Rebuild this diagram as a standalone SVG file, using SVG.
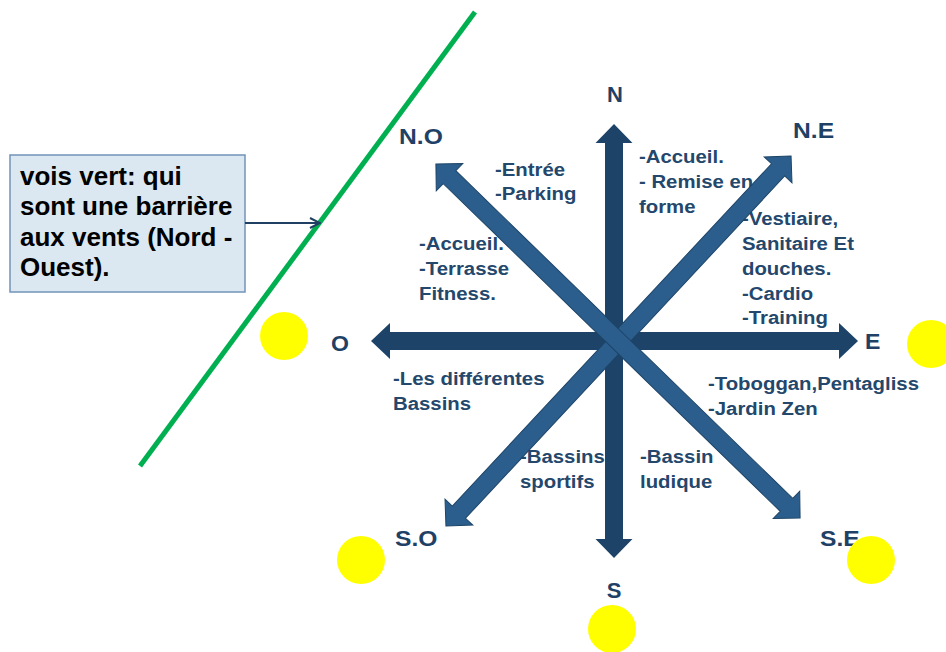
<svg xmlns="http://www.w3.org/2000/svg" width="946" height="652" viewBox="0 0 946 652">
<defs>
<style>
.lbl{font-family:"Liberation Sans",Arial,sans-serif;font-weight:bold;font-size:18.5px;fill:#24476c;}
.dir{font-family:"Liberation Sans",Arial,sans-serif;font-weight:bold;font-size:22px;fill:#1f4166;}
.note{font-family:"Liberation Sans",Arial,sans-serif;font-weight:bold;font-size:26px;fill:#000;}
.axis{fill:#1d4468;}
.diag{fill:#2b5e8c;stroke:#1d4468;stroke-width:1;}
.sun{fill:#ffff00;}
</style>
<marker id="open" viewBox="0 0 12 12" refX="11" refY="6" markerWidth="12" markerHeight="12" markerUnits="userSpaceOnUse" orient="auto">
<path d="M1,1 L11,6 L1,11" fill="none" stroke="#1f3f63" stroke-width="2"/>
</marker>
</defs>
<rect width="946" height="652" fill="#fff"/>

<g id="barrier">
<line x1="475" y1="12" x2="140" y2="466" stroke="#00b050" stroke-width="5"/>
</g>

<g id="note">
<rect x="10" y="155" width="235" height="137" fill="#dbe8f1" stroke="#7294b8" stroke-width="1.5"/>
<text class="note" x="20" y="185">vois vert: qui</text>
<text class="note" x="20" y="215">sont une barrière</text>
<text class="note" x="20" y="246">aux vents (Nord -</text>
<text class="note" x="20" y="276">Ouest).</text>
</g>

<g id="labels">
<g id="lbl-no" transform="translate(495,176) scale(1.1 1)"><text class="lbl"><tspan x="0" y="0">-Entrée</tspan><tspan x="0" y="24">-Parking</tspan></text></g>
<g id="lbl-n" transform="translate(639,163) scale(1.1 1)"><text class="lbl"><tspan x="0" y="0">-Accueil.</tspan><tspan x="0" y="25">- Remise en</tspan><tspan x="0" y="50">forme</tspan></text></g>
<g id="lbl-ne" transform="translate(742,225) scale(1.1 1)"><text class="lbl"><tspan x="0" y="0">-Vestiaire,</tspan><tspan x="0" y="25">Sanitaire Et</tspan><tspan x="0" y="50">douches.</tspan><tspan x="0" y="75">-Cardio</tspan><tspan x="0" y="99">-Training</tspan></text></g>
<g id="lbl-o" transform="translate(419,250) scale(1.1 1)"><text class="lbl"><tspan x="0" y="0">-Accueil.</tspan><tspan x="0" y="25">-Terrasse</tspan><tspan x="0" y="50">Fitness.</tspan></text></g>
<g id="lbl-so-w" transform="translate(393,385) scale(1.1 1)"><text class="lbl"><tspan x="0" y="0">-Les différentes</tspan><tspan x="0" y="25">Bassins</tspan></text></g>
<g id="lbl-se" transform="translate(708,390) scale(1.1 1)"><text class="lbl"><tspan x="0" y="0">-Toboggan,Pentagliss</tspan><tspan x="0" y="25">-Jardin Zen</tspan></text></g>
<g id="lbl-so" transform="translate(520,463) scale(1.1 1)"><text class="lbl"><tspan x="0" y="0">-Bassins</tspan><tspan x="0" y="25">sportifs</tspan></text></g>
<g id="lbl-s" transform="translate(640,463) scale(1.1 1)"><text class="lbl"><tspan x="0" y="0">-Bassin</tspan><tspan x="0" y="25">ludique</tspan></text></g>
</g>

<g id="directions">
<g id="dir-n"><text class="dir" x="615" y="102" text-anchor="middle" font-size="24">N</text></g>
<g id="dir-no" transform="translate(399,144) scale(1.12 1)"><text class="dir">N.O</text></g>
<g id="dir-ne" transform="translate(793,138) scale(1.12 1)"><text class="dir">N.E</text></g>
<g id="dir-o" transform="translate(331,351) scale(1.05 1)"><text class="dir">O</text></g>
<g id="dir-e" transform="translate(865,349) scale(1.05 1)"><text class="dir">E</text></g>
<g id="dir-so" transform="translate(395,546) scale(1.12 1)"><text class="dir">S.O</text></g>
<g id="dir-s"><text class="dir" x="614" y="598" text-anchor="middle">S</text></g>
<g id="dir-se" transform="translate(820,546) scale(1.12 1)"><text class="dir">S.E</text></g>
</g>

<g id="connectors">
<line x1="245" y1="223" x2="320" y2="223" stroke="#1f3f63" stroke-width="2" marker-end="url(#open)"/>
<path class="axis" transform="translate(614.5,341)" d="M-243.5,0 L-224.5,-18 L-224.5,-9 L224.5,-9 L224.5,-18 L243.5,0 L224.5,18 L224.5,9 L-224.5,9 L-224.5,18 Z"/>
<path class="axis" transform="translate(614,341) rotate(90)" d="M-217,0 L-198,-18.5 L-198,-9 L198,-9 L198,-18.5 L217,0 L198,18.5 L198,9 L-198,9 L-198,18.5 Z"/>
<path class="diag" transform="translate(618.5,341) rotate(-47)" d="M-253,0 L-234,-19 L-234,-9 L234,-9 L234,-19 L253,0 L234,19 L234,9 L-234,9 L-234,19 Z"/>
<path class="diag" transform="translate(618,341) rotate(44.2)" d="M-254,0 L-235,-19 L-235,-9 L235,-9 L235,-19 L254,0 L235,19 L235,9 L-235,9 L-235,19 Z"/>
</g>

<g id="suns">
<circle class="sun" cx="284" cy="336" r="24"/>
<circle class="sun" cx="931" cy="344" r="24"/>
<circle class="sun" cx="361" cy="560" r="24"/>
<circle class="sun" cx="871" cy="560" r="24"/>
<circle class="sun" cx="612" cy="629" r="24"/>
</g>
</svg>
